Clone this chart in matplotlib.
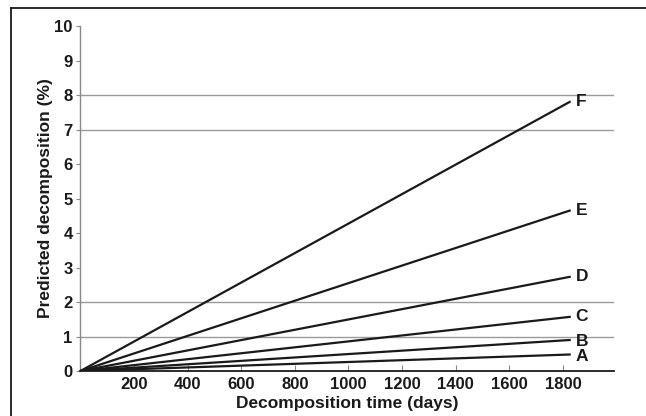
import matplotlib
matplotlib.use("Agg")
import matplotlib.pyplot as plt
from matplotlib.lines import Line2D

plt.rcParams["font.family"] = ["Liberation Sans", "DejaVu Sans"]
plt.rcParams["font.weight"] = "bold"

days = [0, 1825]
series_names = ["A", "B", "C", "D", "E", "F"]
end_values = [0.48, 0.90, 1.57, 2.73, 4.65, 7.80]
label_nudge = [-0.07, -0.03, 0.0, 0.0, 0.0, 0.0]
x_ticks = [200, 400, 600, 800, 1000, 1200, 1400, 1600, 1800]
y_ticks = list(range(0, 11))
grid_levels = [1, 2, 7, 8]

fig = plt.figure(figsize=(6.46, 4.16), dpi=100)
ax = fig.add_axes([0.1243, 0.108, 0.826, 0.8295])

for level in grid_levels:
    ax.axhline(level, color="#9a9a9a", linewidth=1.0, zorder=1)

for name, v, dy in zip(series_names, end_values, label_nudge):
    ax.plot(days, [0, v], color="#1a1a1a", linewidth=1.6, zorder=3)
    ax.text(days[-1] + 22, v + dy, name, fontsize=12.5, fontweight="bold",
            ha="left", va="center", color="#1a1a1a")

ax.set_xlim(0, 1990)
ax.set_ylim(0, 10)
ax.set_xticks(x_ticks)
ax.set_yticks(y_ticks)
ax.tick_params(axis="x", direction="in", length=4, width=0.8, color="#888888",
               labelsize=12, pad=4, labelcolor="#1a1a1a")
ax.tick_params(axis="y", direction="out", length=3, width=0.8, color="#888888",
               labelsize=12, pad=2.5, labelcolor="#1a1a1a")
for lab in ax.get_xticklabels() + ax.get_yticklabels():
    lab.set_fontweight("bold")

ax.spines["top"].set_visible(False)
ax.spines["right"].set_visible(False)
ax.spines["left"].set_color("#888888")
ax.spines["left"].set_linewidth(1.0)
ax.spines["bottom"].set_color("#1a1a1a")
ax.spines["bottom"].set_linewidth(1.3)

ax.set_xlabel("Decomposition time (days)", fontsize=12.5, fontweight="bold",
              color="#1a1a1a", labelpad=3)
ax.set_ylabel("Predicted decomposition (%)", fontsize=12.5, fontweight="bold",
              color="#1a1a1a", labelpad=1)

# outer frame (only top and left edges fall inside the image)
fig.add_artist(Line2D([11 / 646, 1.0], [408 / 416, 408 / 416],
                      transform=fig.transFigure, color="#1a1a1a", linewidth=1.3))
fig.add_artist(Line2D([11 / 646, 11 / 646], [0.0, 408 / 416],
                      transform=fig.transFigure, color="#1a1a1a", linewidth=1.3))

fig.savefig("out.png", dpi=100)
